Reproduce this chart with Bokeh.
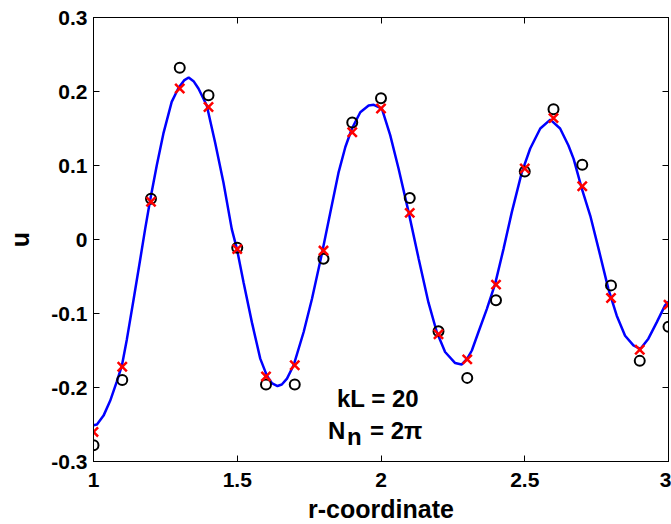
from bokeh.plotting import figure
from bokeh.models import LinearAxis, FixedTicker, Label
from bokeh.embed import file_html
from bokeh.resources import INLINE

# ---- data ----
r_points = [1.0, 1.1, 1.2, 1.3, 1.4, 1.5, 1.6, 1.7, 1.8, 1.9, 2.0,
            2.1, 2.2, 2.3, 2.4, 2.5, 2.6, 2.7, 2.8, 2.9, 3.0]
u_circles = [-0.278, -0.190, 0.055, 0.232, 0.195, -0.011, -0.196, -0.196, -0.026, 0.158, 0.191,
             0.056, -0.124, -0.187, -0.082, 0.092, 0.176, 0.101, -0.062, -0.164, -0.118]
u_crosses = [-0.260, -0.172, 0.051, 0.204, 0.179, -0.013, -0.185, -0.170, -0.015, 0.145, 0.177,
             0.036, -0.128, -0.162, -0.061, 0.096, 0.164, 0.072, -0.079, -0.149, -0.088]

curve_r = [1.000, 1.012, 1.035, 1.058, 1.081, 1.099, 1.116, 1.139, 1.162, 1.180,
           1.197, 1.220, 1.243, 1.272, 1.296, 1.315, 1.331, 1.348, 1.365, 1.394,
           1.423, 1.452, 1.481, 1.499, 1.522, 1.551, 1.580, 1.603, 1.620, 1.640,
           1.655, 1.673, 1.696, 1.731, 1.760, 1.794, 1.823, 1.852, 1.876, 1.899,
           1.928, 1.957, 1.975, 2.003, 2.032, 2.061, 2.096, 2.131, 2.165, 2.194,
           2.223, 2.258, 2.280, 2.300, 2.316, 2.339, 2.368, 2.397, 2.426, 2.455,
           2.490, 2.519, 2.554, 2.589, 2.623, 2.652, 2.670, 2.699, 2.728, 2.757,
           2.791, 2.820, 2.849, 2.878, 2.902, 2.930, 2.959, 2.988, 3.000]
curve_u = [-0.251, -0.250, -0.238, -0.218, -0.192, -0.170, -0.135, -0.082, -0.028, 0.015,
           0.053, 0.100, 0.143, 0.186, 0.205, 0.215, 0.219, 0.214, 0.204, 0.181,
           0.131, 0.077, 0.014, -0.013, -0.058, -0.112, -0.161, -0.184, -0.194, -0.198,
           -0.196, -0.188, -0.170, -0.125, -0.080, -0.020, 0.035, 0.090, 0.125, 0.150,
           0.172, 0.181, 0.182, 0.177, 0.141, 0.096, 0.037, -0.026, -0.085, -0.125,
           -0.152, -0.167, -0.169, -0.161, -0.150, -0.125, -0.094, -0.060, -0.013, 0.037,
           0.091, 0.123, 0.150, 0.162, 0.150, 0.127, 0.109, 0.068, 0.032, -0.013,
           -0.067, -0.103, -0.130, -0.143, -0.148, -0.134, -0.112, -0.089, -0.084]

x_ticks = [1.0, 1.5, 2.0, 2.5, 3.0]
x_tick_labels = ["1", "1.5", "2", "2.5", "3"]
y_ticks = [-0.3, -0.2, -0.1, 0.0, 0.1, 0.2, 0.3]
y_tick_labels = ["-0.3", "-0.2", "-0.1", "0", "0.1", "0.2", "0.3"]

FONT = "Liberation Sans"

p = figure(width=671, height=524, x_range=(1, 3), y_range=(-0.3, 0.3),
           output_backend="svg", toolbar_location=None,
           frame_width=575, frame_height=444,
           min_border_left=93, min_border_right=3, min_border_top=17, min_border_bottom=63)
p.background_fill_color = "white"
p.border_fill_color = "white"
p.outline_line_color = "black"
p.grid.visible = False

for ax, ticks, labels in ((p.xaxis[0], x_ticks, x_tick_labels), (p.yaxis[0], y_ticks, y_tick_labels)):
    ax.ticker = FixedTicker(ticks=ticks)
    ax.major_label_overrides = {t: l for t, l in zip(ticks, labels)}
    ax.major_tick_in = 6
    ax.major_tick_out = 0
    ax.minor_tick_line_color = None
    ax.axis_line_color = "black"
    ax.major_tick_line_color = "black"
    ax.major_label_text_font = FONT
    ax.major_label_text_font_style = "bold"
    ax.major_label_text_font_size = "21px"
    ax.major_label_text_color = "black"
    ax.axis_label_text_font = FONT
    ax.axis_label_text_font_style = "bold"
    ax.axis_label_text_font_size = "25px"
    ax.axis_label_text_color = "black"

p.xaxis[0].axis_label = "r-coordinate"
p.xaxis[0].major_label_standoff = 11
p.xaxis[0].axis_label_standoff = 5
p.yaxis[0].axis_label = "u"
p.yaxis[0].major_label_standoff = 6
p.yaxis[0].axis_label_standoff = 14

for loc, ticks in (("above", x_ticks), ("right", y_ticks)):
    ax = LinearAxis(ticker=FixedTicker(ticks=ticks), major_tick_in=6, major_tick_out=0,
                    minor_tick_line_color=None, major_label_text_color=None,
                    major_label_text_font_size="1px",
                    major_label_standoff=0, axis_line_color="black",
                    major_tick_line_color="black")
    p.add_layout(ax, loc)

p.line(curve_r, curve_u, line_color="#0000ff", line_width=2.5)
p.scatter(r_points, u_circles, marker="circle", size=10, fill_color=None,
          line_color="black", line_width=2)
p.scatter(r_points, u_crosses, marker="x", size=13, line_color="#ff0000", line_width=2.5)

p.add_layout(Label(x=2.0, y=-0.215, x_offset=-3, text="kL = 20", text_align="center",
                   text_baseline="middle", text_font=FONT, text_font_style="bold",
                   text_font_size="24px", text_color="black"))
p.add_layout(Label(x=2.0, y=-0.258, x_offset=-53, text="N", text_align="left",
                   text_baseline="middle", text_font=FONT, text_font_style="bold",
                   text_font_size="24px", text_color="black"))
p.add_layout(Label(x=2.0, y=-0.258, x_offset=-34, y_offset=-6, text="n", text_align="left",
                   text_baseline="middle", text_font=FONT, text_font_style="bold",
                   text_font_size="24px", text_color="black"))
p.add_layout(Label(x=2.0, y=-0.258, x_offset=-11, text="= 2\u03c0", text_align="left",
                   text_baseline="middle", text_font=FONT, text_font_style="bold",
                   text_font_size="24px", text_color="black"))

open("out.html", "w").write(file_html(p, INLINE))
